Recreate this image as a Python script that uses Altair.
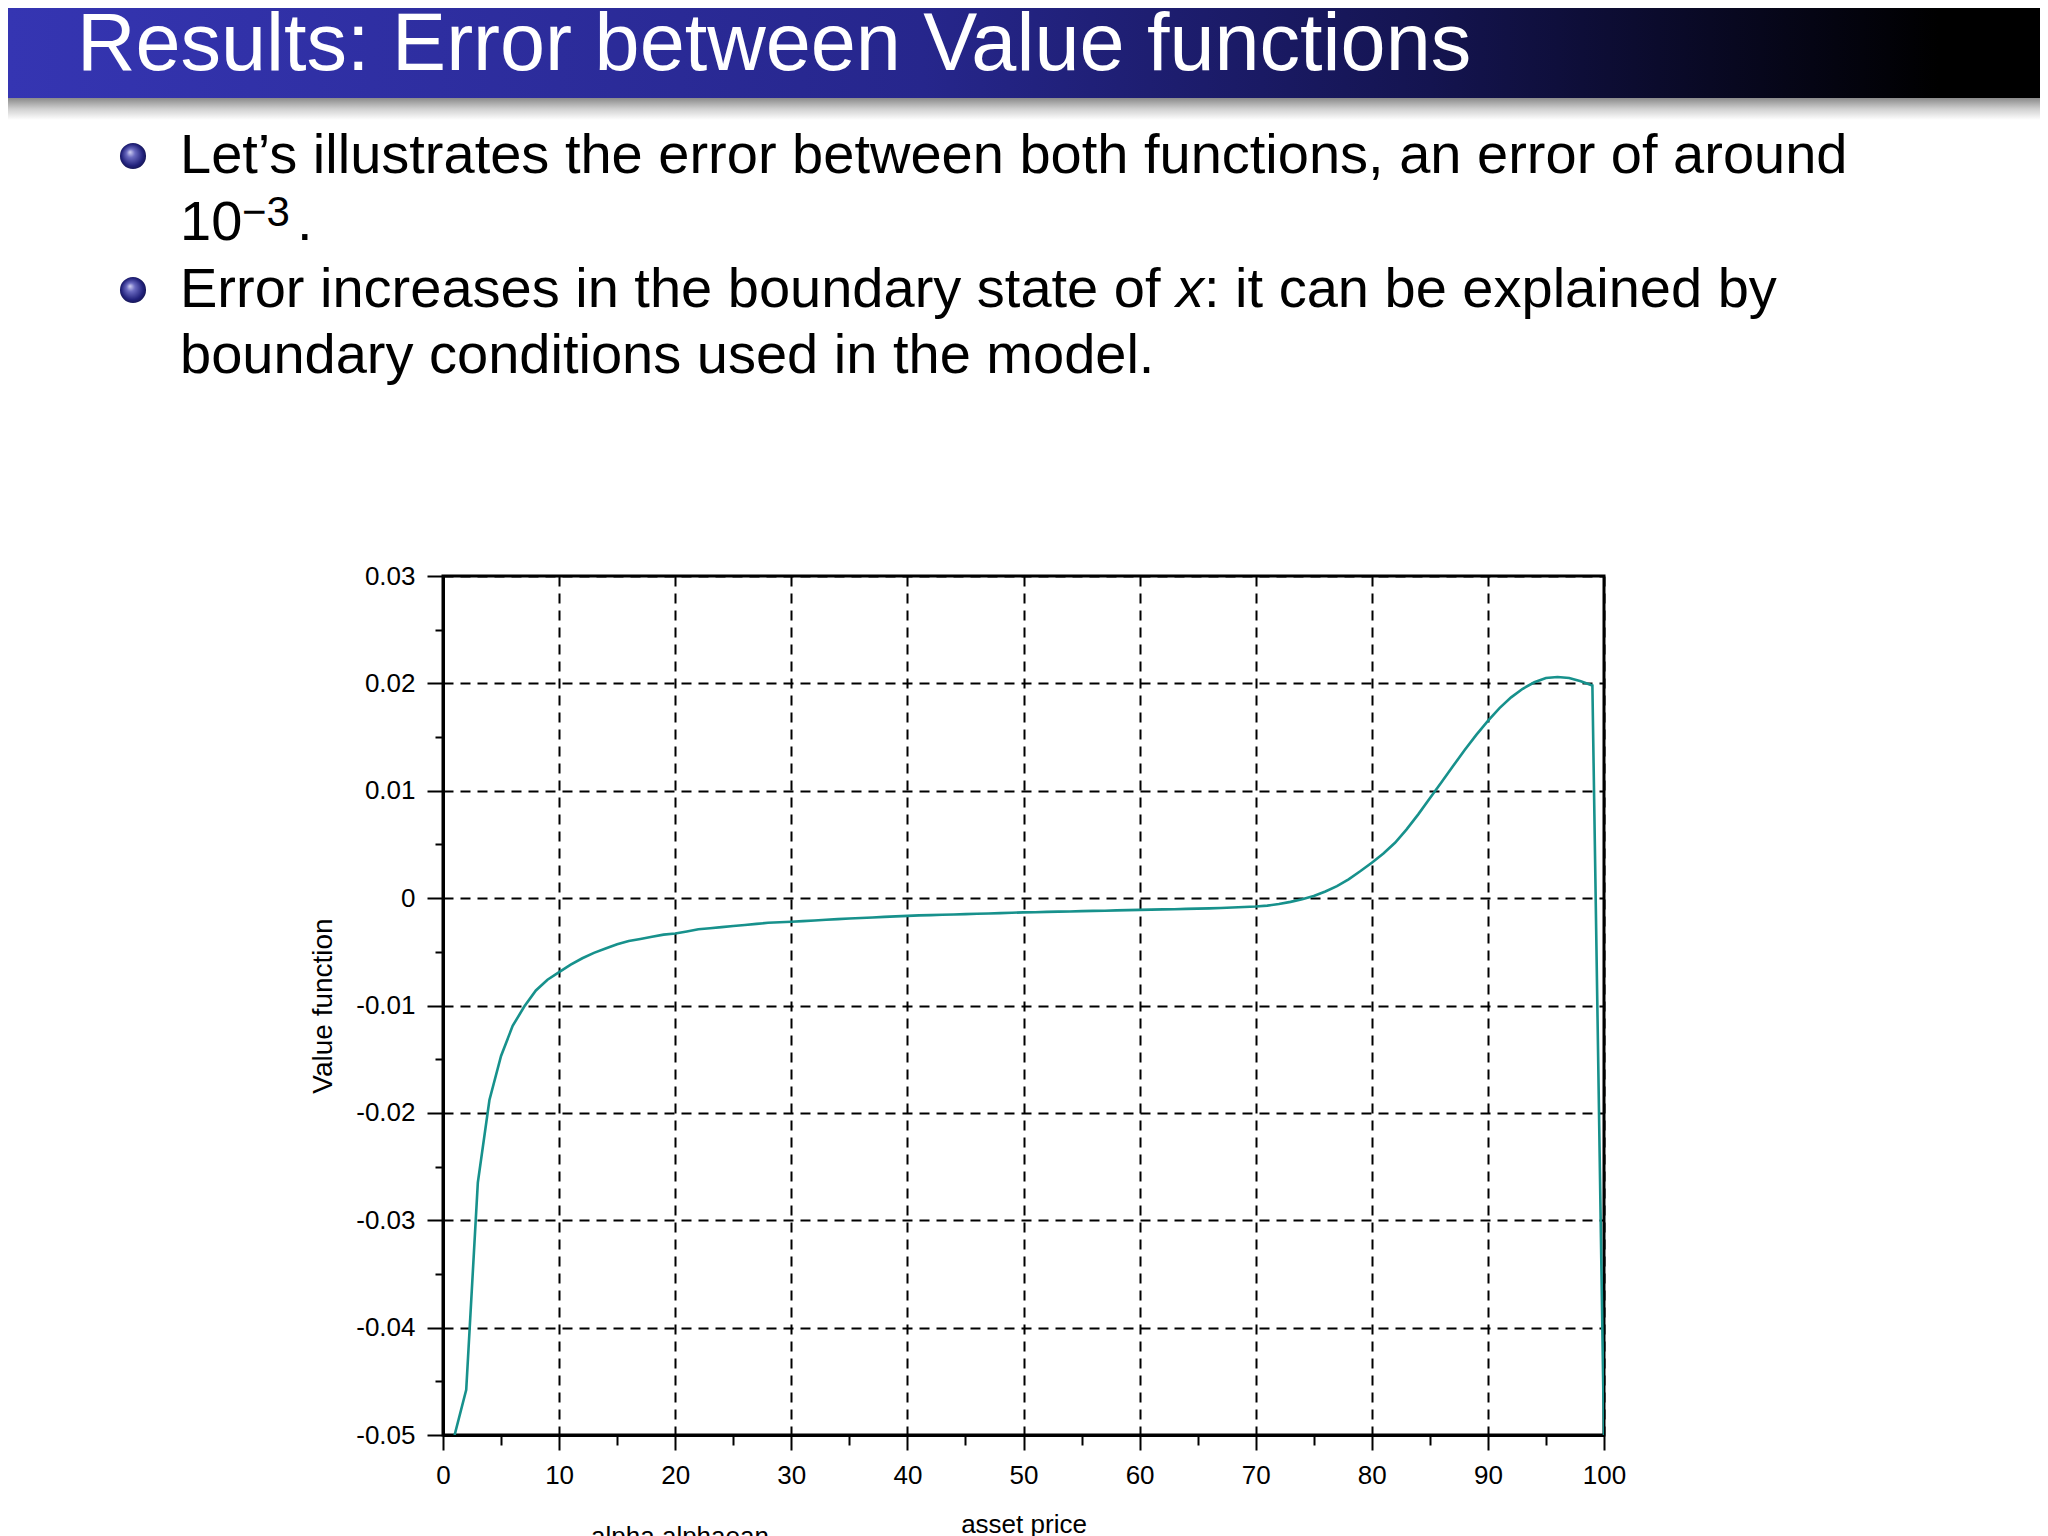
import altair as alt
import pandas as pd

# ---------------- data ----------------
asset_price = list(range(1, 101))
value_error = [
    -0.0500, -0.0458, -0.0265, -0.0188, -0.0147, -0.0119, -0.0101, -0.0086, -0.0076, -0.0069,
    -0.0062, -0.0056, -0.0051, -0.0047, -0.0043, -0.0040, -0.0038, -0.0036, -0.0034, -0.0033,
    -0.0031, -0.0029, -0.0028, -0.0027, -0.0026, -0.0025, -0.0024, -0.0023, -0.00225, -0.0022,
    -0.00214, -0.00208, -0.00202, -0.00196, -0.00190, -0.00185, -0.00180, -0.00175, -0.00170, -0.00165,
    -0.00161, -0.00158, -0.00155, -0.00152, -0.00149, -0.00146, -0.00143, -0.00140, -0.00136, -0.00133,
    -0.00131, -0.00128, -0.00126, -0.00124, -0.00121, -0.00119, -0.00117, -0.00114, -0.00112, -0.00109,
    -0.00107, -0.00105, -0.00103, -0.00100, -0.00098, -0.00095, -0.00092, -0.00088, -0.00083, -0.00078,
    -0.00070, -0.00055, -0.00035, -0.00010, 0.00020, 0.00062, 0.00112, 0.00175, 0.00250, 0.00330,
    0.00415, 0.00515, 0.00640, 0.00780, 0.00930, 0.01080, 0.01230, 0.01380, 0.01520, 0.01650,
    0.01770, 0.01870, 0.01950, 0.02010, 0.02050, 0.02060, 0.02050, 0.02020, 0.01980, -0.05000,
]

x_major = [0, 10, 20, 30, 40, 50, 60, 70, 80, 90, 100]
x_minor = [5, 15, 25, 35, 45, 55, 65, 75, 85, 95]
y_major = [-0.05, -0.04, -0.03, -0.02, -0.01, 0.0, 0.01, 0.02, 0.03]
y_minor = [-0.045, -0.035, -0.025, -0.015, -0.005, 0.005, 0.015, 0.025]

slide_title = "Results: Error between Value functions"
bullet1_line1 = "Let\u2019s illustrates the error between both functions, an error of around"
bullet2_part1 = "Error increases in the boundary state of "
bullet2_var = "x"
bullet2_part2 = ": it can be explained by"
bullet2_line2 = "boundary conditions used in the model."
x_title = "asset price"
y_title = "Value function"
cut_label = "alpha alphaean"

FONT = "Liberation Sans"
W, H = 1161, 859

df = pd.DataFrame({"asset_price": asset_price, "value": value_error})

xscale = alt.Scale(domain=[0, 100], nice=False, zero=False)
yscale = alt.Scale(domain=[-0.05, 0.03], nice=False, zero=False)

grid_common = dict(
    grid=True, gridColor="black", gridDash=[10, 7], gridWidth=2, gridOpacity=1,
    domainColor="black", domainWidth=3, tickColor="black", tickWidth=2,
    labelFont=FONT, labelFontSize=26, labelColor="black", labelFlush=False,
    titleFont=FONT, titleFontWeight="normal", titleColor="black",
)

line = alt.Chart(df).mark_line(color="#17918c", strokeWidth=2.6, clip=True).encode(
    x=alt.X("asset_price:Q", scale=xscale,
            axis=alt.Axis(values=x_major, orient="bottom", tickSize=15, labelPadding=12,
                          title=x_title, titleFontSize=26, titlePadding=23, format="d",
                          **grid_common)),
    y=alt.Y("value:Q", scale=yscale,
            axis=alt.Axis(values=y_major, orient="left", tickSize=16, labelPadding=12,
                          title=y_title, titleFontSize=28, titlePadding=18,
                          labelExpr="datum.value == 0 ? '0' : (datum.value < 0 ? '-' : '') + format(abs(datum.value), '.2f')",
                          **grid_common)),
)

minor_axis = dict(labels=False, domain=False, grid=False, title=None,
                  tickColor="black", tickWidth=2)

minor_y = alt.Chart(pd.DataFrame({"ym": y_minor})).mark_point(opacity=0).encode(
    y=alt.Y("ym:Q", scale=yscale,
            axis=alt.Axis(values=y_minor, orient="left", tickSize=8, **minor_axis)),
)
minor_x = alt.Chart(pd.DataFrame({"xm": x_minor})).mark_point(opacity=0).encode(
    x=alt.X("xm:Q", scale=xscale,
            axis=alt.Axis(values=x_minor, orient="bottom", tickSize=10, **minor_axis)),
)

one = alt.Data(values=[{}])
OX, OY = 443, 576  # page position of the plot origin


def px(x):
    return x - OX


def py(y):
    return y - OY


bar = alt.Chart(one).mark_rect(
    color=alt.LinearGradient(
        gradient="linear", x1=0, x2=1, y1=0, y2=0,
        stops=[alt.GradientStop(offset=0, color="#3535b2"),
               alt.GradientStop(offset=0.45, color="#26268c"),
               alt.GradientStop(offset=0.70, color="#141450"),
               alt.GradientStop(offset=0.95, color="#000000"),
               alt.GradientStop(offset=1, color="#000000")])
).encode(x=alt.value(px(8)), x2=alt.value(px(2040)), y=alt.value(py(8)), y2=alt.value(py(98)))

shadow = alt.Chart(one).mark_rect(
    color=alt.LinearGradient(
        gradient="linear", x1=0, x2=0, y1=0, y2=1,
        stops=[alt.GradientStop(offset=0, color="#8a8a8a"),
               alt.GradientStop(offset=0.5, color="#d0d0d0"),
               alt.GradientStop(offset=1, color="#ffffff")])
).encode(x=alt.value(px(8)), x2=alt.value(px(2040)), y=alt.value(py(98)), y2=alt.value(py(120)))


def txt(s, x, y, size, color="black", style="normal", align="left", baseline="alphabetic"):
    return alt.Chart(one).mark_text(
        text=s, align=align, baseline=baseline, fontSize=size, font=FONT,
        color=color, fontStyle=style,
    ).encode(x=alt.value(px(x)), y=alt.value(py(y)))


ball_grad = alt.RadialGradient(
    gradient="radial", x1=0.38, y1=0.35, r1=0.0, x2=0.5, y2=0.5, r2=0.55,
    stops=[alt.GradientStop(offset=0, color="#d4d4f4"),
           alt.GradientStop(offset=0.3, color="#6a6ac0"),
           alt.GradientStop(offset=0.75, color="#22227c"),
           alt.GradientStop(offset=1, color="#12124a")])


def ball(x, y):
    return alt.Chart(one).mark_circle(size=680, color=ball_grad, opacity=1).encode(
        x=alt.value(px(x)), y=alt.value(py(y)))


layers = [
    bar, shadow,
    txt(slide_title, 77, 70, 81, color="white"),
    ball(133, 156),
    txt(bullet1_line1, 180, 173, 56),
    txt("10", 180, 240, 56),
    txt("\u22123", 242, 226, 42),
    txt(".", 297, 240, 56),
    ball(133, 290),
    txt(bullet2_part1, 180, 307, 56),
    txt(bullet2_var, 1176, 307, 56, style="italic"),
    txt(bullet2_part2, 1204, 307, 56),
    txt(bullet2_line2, 180, 373, 56),
    txt(cut_label, 680, 1545, 26, align="center"),
    line, minor_y, minor_x,
]

chart = alt.layer(*layers).resolve_axis(x="independent", y="independent").properties(
    width=W, height=H,
    autosize=alt.AutoSizeParams(type="none"),
    padding={"left": OX - 8, "top": OY - 8, "right": 2032 - (OX - 8) - W, "bottom": 1528 - (OY - 8) - H},
    background="white",
).configure_view(stroke="black", strokeWidth=3)

chart.save("out.html", embed_options={"renderer": "svg", "actions": False})
